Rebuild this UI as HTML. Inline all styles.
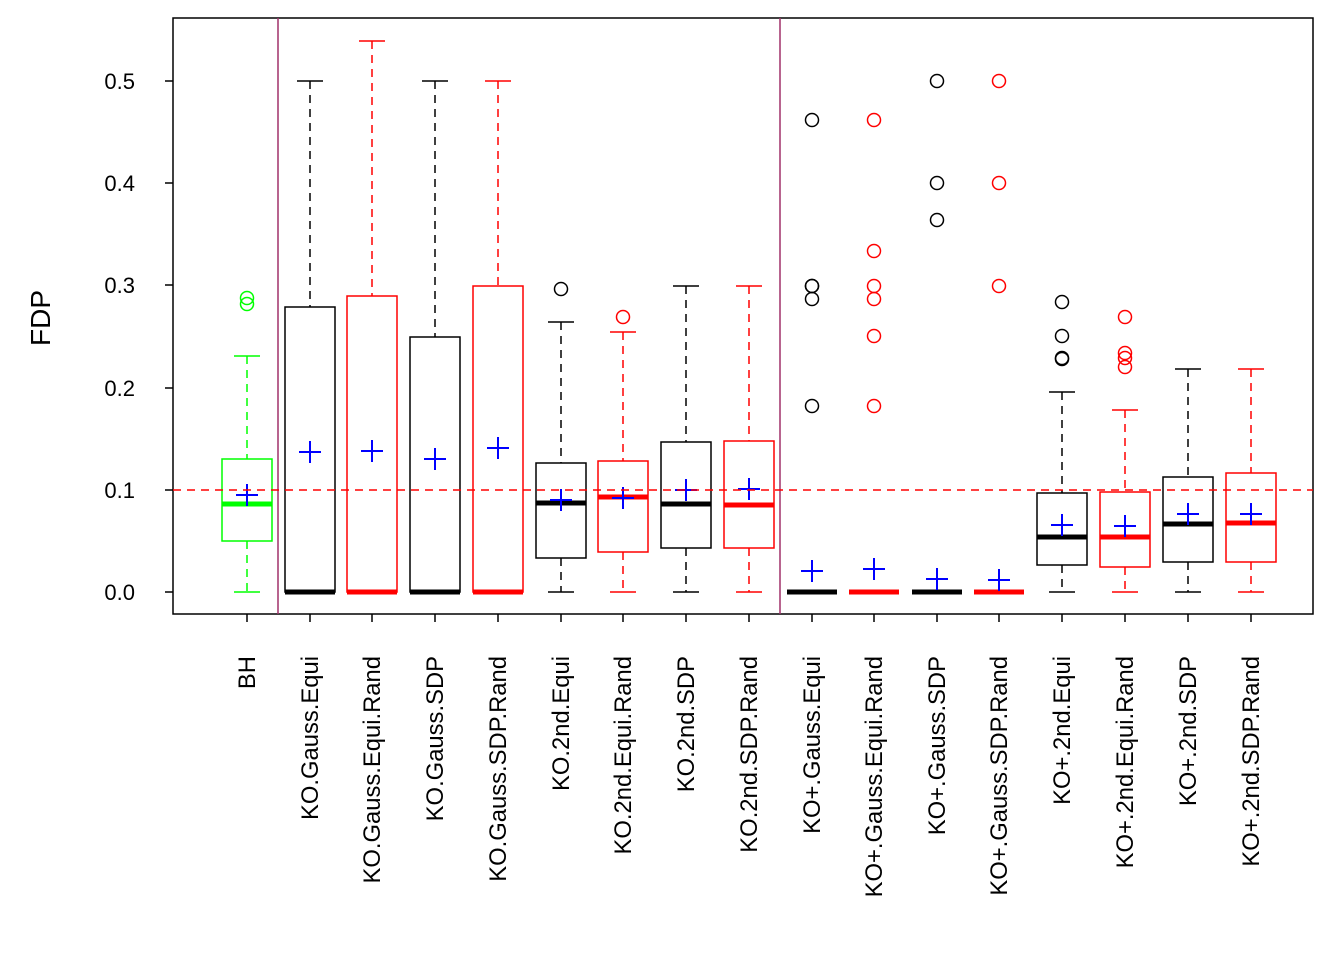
<!DOCTYPE html>
<html><head><meta charset="utf-8"><style>body{margin:0;background:#fff}svg{display:block}text{font-family:"Liberation Sans",Arial,sans-serif}</style></head>
<body>
<svg id="s" width="1344" height="960" xmlns="http://www.w3.org/2000/svg">
<rect x="173" y="18" width="1140" height="596" fill="none" stroke="#000" stroke-width="1.5"/>
<line x1="278" y1="18" x2="278" y2="614" stroke="#a0306a" stroke-width="1.5"/>
<line x1="780" y1="18" x2="780" y2="614" stroke="#a0306a" stroke-width="1.5"/>
<g font-size="22" text-anchor="end">
<text x="135" y="600">0.0</text><text x="135" y="498">0.1</text><text x="135" y="396">0.2</text><text x="135" y="293">0.3</text><text x="135" y="191">0.4</text><text x="135" y="89">0.5</text>
</g>
<g stroke="#000" stroke-width="1.5"><line x1="165" y1="592" x2="173" y2="592"/><line x1="165" y1="490" x2="173" y2="490"/><line x1="165" y1="388" x2="173" y2="388"/><line x1="165" y1="285" x2="173" y2="285"/><line x1="165" y1="183" x2="173" y2="183"/><line x1="165" y1="81" x2="173" y2="81"/></g>
<text transform="translate(50,318) rotate(-90)" font-size="28" text-anchor="middle">FDP</text>
<g id="g"></g>
<line x1="173" y1="490" x2="1313" y2="490" stroke="#f00" stroke-width="1.5" stroke-dasharray="8,6"/>
</svg>
<script>
var g=document.getElementById('g'),h='';
var X=[247,310,372,435,498,561,623,686,749,812,874,937,999,1062,1125,1188,1251];
var L=["BH","KO.Gauss.Equi","KO.Gauss.Equi.Rand","KO.Gauss.SDP","KO.Gauss.SDP.Rand","KO.2nd.Equi","KO.2nd.Equi.Rand","KO.2nd.SDP","KO.2nd.SDP.Rand","KO+.Gauss.Equi","KO+.Gauss.Equi.Rand","KO+.Gauss.SDP","KO+.Gauss.SDP.Rand","KO+.2nd.Equi","KO+.2nd.Equi.Rand","KO+.2nd.SDP","KO+.2nd.SDP.Rand"];
var D=[
[356,459,504,541,592,495,[298,304]],
[81,307,592,592,592,452,[]],
[41,296,592,592,592,451,[]],
[81,337,592,592,592,459,[]],
[81,286,592,592,592,448,[]],
[322,463,503,558,592,500,[289]],
[332,461,497,552,592,498,[317]],
[286,442,504,548,592,490,[]],
[286,441,505,548,592,489,[]],
[592,592,592,592,592,571,[120,286,286,299,406]],
[592,592,592,592,592,569,[120,251,286,299,336,406]],
[592,592,592,592,592,579,[81,183,220]],
[592,592,592,592,592,580,[81,183,286]],
[392,493,537,565,592,525,[302,336,358,359]],
[410,492,537,567,592,526,[317,353,358,367]],
[369,477,524,562,592,514,[]],
[369,473,523,562,592,514,[]]];
for(var i=0;i<17;i++){var x=X[i],d=D[i],c=i==0?'#0f0':(i%2==0?'#f00':'#000');
h+='<line x1="'+x+'" y1="614" x2="'+x+'" y2="622" stroke="#000" stroke-width="1.5"/>';
h+='<text transform="translate('+(x+8)+',656) rotate(-90)" font-size="23.8" text-anchor="end">'+L[i]+'</text>';
if(d[0]<d[1]){h+='<line x1="'+x+'" y1="'+d[0]+'" x2="'+x+'" y2="'+d[1]+'" stroke="'+c+'" stroke-width="1.5" stroke-dasharray="8,6"/>';
h+='<line x1="'+(x-13)+'" y1="'+d[0]+'" x2="'+(x+13)+'" y2="'+d[0]+'" stroke="'+c+'" stroke-width="1.5"/>';}
if(d[3]<d[4]){h+='<line x1="'+x+'" y1="'+d[3]+'" x2="'+x+'" y2="'+d[4]+'" stroke="'+c+'" stroke-width="1.5" stroke-dasharray="8,6"/>';
h+='<line x1="'+(x-13)+'" y1="'+d[4]+'" x2="'+(x+13)+'" y2="'+d[4]+'" stroke="'+c+'" stroke-width="1.5"/>';}
if(d[1]<d[3])h+='<rect x="'+(x-25)+'" y="'+d[1]+'" width="50" height="'+(d[3]-d[1])+'" fill="none" stroke="'+c+'" stroke-width="1.5"/>';
h+='<line x1="'+(x-25)+'" y1="'+d[2]+'" x2="'+(x+25)+'" y2="'+d[2]+'" stroke="'+c+'" stroke-width="5"/>';
d[6].forEach(function(o){h+='<circle cx="'+x+'" cy="'+o+'" r="6.5" fill="none" stroke="'+c+'" stroke-width="1.5"/>';});
h+='<path d="M'+(x-11)+' '+d[5]+'h22M'+x+' '+(d[5]-11)+'v22" stroke="#00f" stroke-width="2"/>';}
g.innerHTML=h;
</script>
</body></html>
